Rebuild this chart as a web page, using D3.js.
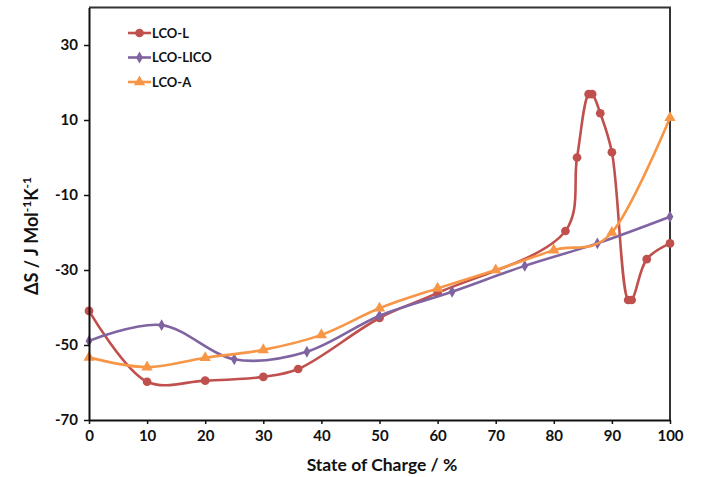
<!DOCTYPE html>
<html><head><meta charset="utf-8">
<script src="https://cdn.jsdelivr.net/npm/d3@7"></script>
<style>body{margin:0;background:#fff}svg{display:block}text{font-family:Lato,"Open Sans",sans-serif;font-weight:bold;fill:#111}</style>
</head><body><svg id="c" width="702" height="477"></svg>
<script>
const seriesNames = ["LCO-L", "LCO-LICO", "LCO-A"];
const lcoL_x = [0, 10, 20, 30, 36, 50, 60, 82, 84, 86, 86.6, 88, 90, 92.8, 93.4, 96, 100];
const lcoL_y = [-40.9, -59.8, -59.5, -58.5, -56.4, -42.8, -36.1, -19.6, 0, 16.9, 16.9, 11.8, 1.4, -38, -38, -27.1, -22.9];
const lcoLICO_x = [0, 12.5, 25, 37.5, 50, 62.5, 75, 87.5, 100];
const lcoLICO_y = [-48.9, -44.7, -53.8, -51.8, -42.2, -35.8, -28.9, -22.9, -15.8];
const lcoA_x = [0, 10, 20, 30, 40, 50, 60, 70, 80, 90, 100];
const lcoA_y = [-53.3, -55.9, -53.4, -51.3, -47.3, -40.2, -34.9, -30, -24.7, -20, 10.6];
const xTicks = [0, 10, 20, 30, 40, 50, 60, 70, 80, 90, 100];
const yTicks = [-70, -50, -30, -10, 10, 30];
const colors = ["#C0504D", "#8064A2", "#F79646"];
const symbols = [d3.symbolCircle, d3.symbolDiamond, d3.symbolTriangle];
const symSizes = [60, 40, 55];
const curveAlpha = [0.5, 0, 0];

const svg = d3.select("#c");
const x = d3.scaleLinear().domain([0, 100]).range([89, 670]);
const y = d3.scaleLinear().domain([-70, 40]).range([420, 7.5]);

const series = [
  lcoL_x.map((v, i) => [v, lcoL_y[i]]),
  lcoLICO_x.map((v, i) => [v, lcoLICO_y[i]]),
  lcoA_x.map((v, i) => [v, lcoA_y[i]])
];

// frame
svg.append("path").attr("d", `M${x(0)},${y(40)}H${x(100)}V${y(-70)}`)
  .attr("fill", "none").attr("stroke", "#333").attr("stroke-width", 2);

series.forEach((s, i) => {
  const line = d3.line().x(d => x(d[0])).y(d => y(d[1])).curve(d3.curveCatmullRom.alpha(curveAlpha[i]));
  svg.append("path").datum(s).attr("d", line).attr("fill", "none")
    .attr("stroke", colors[i]).attr("stroke-width", 2.6);
  svg.append("g").selectAll("path").data(s).join("path")
    .attr("transform", d => `translate(${x(d[0])},${y(d[1])})`)
    .attr("d", d3.symbol().type(symbols[i]).size(symSizes[i]))
    .attr("fill", colors[i]);
});

// axes
const fmt = d => String(d);
const xAxis = svg.append("g").attr("transform", `translate(0,${y(-70)})`)
  .call(d3.axisBottom(x).tickValues(xTicks).tickFormat(fmt).tickSize(4).tickPadding(6).tickSizeOuter(0));
const yAxis = svg.append("g").attr("transform", `translate(${x(0)},0)`)
  .call(d3.axisLeft(y).tickValues(yTicks).tickFormat(fmt).tickSize(5).tickPadding(6).tickSizeOuter(0));
[xAxis, yAxis].forEach(a => {
  a.select(".domain").attr("stroke", "#111").attr("stroke-width", 2);
  a.selectAll(".tick line").attr("stroke", "#111").attr("stroke-width", 1.5);
  a.selectAll("text").attr("font-size", 15).attr("font-family", "Lato, sans-serif").attr("font-weight", "bold").attr("fill", "#111");
});

// axis titles
svg.append("text").attr("x", 382).attr("y", 471).attr("text-anchor", "middle")
  .attr("font-size", 17.5).text("State of Charge / %");
const yt = svg.append("text").attr("transform", "translate(38,236) rotate(-90)")
  .attr("text-anchor", "middle").attr("font-size", 18);
yt.append("tspan").text("\u0394S / J Mol");
yt.append("tspan").attr("dy", -7).attr("font-size", 12).text("-1");
yt.append("tspan").attr("dy", 7).text("K");
yt.append("tspan").attr("dy", -7).attr("font-size", 12).text("-1");

// legend
const lg = svg.append("g");
seriesNames.forEach((n, i) => {
  const ly = 33 + i * 24.5;
  lg.append("line").attr("x1", 128).attr("x2", 151).attr("y1", ly).attr("y2", ly)
    .attr("stroke", colors[i]).attr("stroke-width", 2.6);
  lg.append("path").attr("transform", `translate(139.5,${ly})`)
    .attr("d", d3.symbol().type(symbols[i]).size(symSizes[i])).attr("fill", colors[i]);
  lg.append("text").attr("x", 152).attr("y", ly + 4.5).attr("font-size", 13).text(n);
});
</script></body></html>
